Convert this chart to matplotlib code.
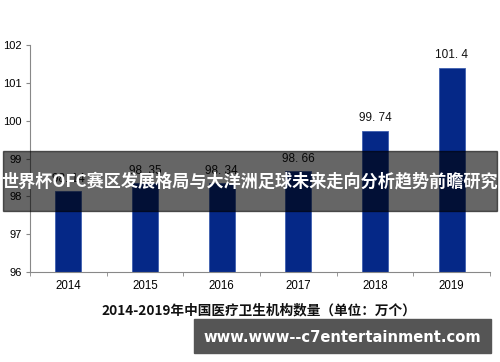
from matplotlib import pyplot as plt
import matplotlib.patches as mpatches
import numpy as np

plt.rcParams['font.family'] = ['Liberation Sans', 'Noto Sans CJK SC', 'DejaVu Sans']

# data
years = ['2014', '2015', '2016', '2017', '2018', '2019']
counts = [98.14, 98.35, 98.34, 98.66, 99.74, 101.4]
count_labels = ['98. 14', '98. 35', '98. 34', '98. 66', '99. 74', '101. 4']
y_ticks = [96, 97, 98, 99, 100, 101, 102]

fig = plt.figure(figsize=(5, 3.62), dpi=100)
ax = fig.add_axes([0.06, 0.2486, 0.92, 0.627])

x = np.arange(len(years))
ax.bar(x, counts, width=0.34, color='#052887', edgecolor='#3f5fb0', linewidth=0.6, zorder=2)

for xi, v, lab in zip(x, counts, count_labels):
    ax.annotate(lab, (xi, v), xytext=(0, 4.5), textcoords='offset points',
                ha='center', va='bottom', fontsize=8.5, color='#111111')

ax.set_xlim(-0.5, len(years) - 0.5)
ax.set_ylim(96, 102)
ax.set_yticks(y_ticks)
ax.set_yticklabels([str(t) for t in y_ticks], fontsize=8)
ax.set_xticks(x)
ax.set_xticklabels(years, fontsize=8.3)
ax.set_xticks(np.arange(-0.5, len(years)), minor=True)
ax.tick_params(axis='x', which='major', length=0, pad=6)
ax.tick_params(axis='x', which='minor', length=3, color='#888888')
ax.tick_params(axis='y', length=3, color='#888888', pad=3)

for s in ['top', 'right']:
    ax.spines[s].set_visible(False)
ax.spines['left'].set_color('#888888')
ax.spines['bottom'].set_color('#888888')

fig.text(0.518, 1 - 310 / 362, '2014-2019年中国医疗卫生机构数量（单位：万个）',
         ha='center', va='center', fontsize=9.8, fontweight='bold',
         family=['Noto Sans CJK SC', 'DejaVu Sans'], color='#111111')

# overlay banners
fig.patches.append(mpatches.Rectangle((0.006, 1 - 211 / 362), 0.988, 60 / 362,
                                      transform=fig.transFigure, color='#000000',
                                      alpha=0.6, zorder=5))
fig.text(0.5, 1 - 181 / 362, '世界杯OFC赛区发展格局与大洋洲足球未来走向分析趋势前瞻研究',
         ha='center', va='center', fontsize=12.3, fontweight='bold', color='white',
         family=['Noto Sans CJK SC', 'DejaVu Sans'], zorder=6)

fig.patches.append(mpatches.Rectangle((194 / 500, 1 - 353 / 362), 297 / 500, 34 / 362,
                                      transform=fig.transFigure, color='#555555',
                                      zorder=5))
fig.text(342 / 500, 1 - 337 / 362, 'www.www--c7entertainment.com',
         ha='center', va='center', fontsize=10.6, fontweight='bold', color='white',
         family='DejaVu Sans', zorder=6)

fig.savefig('out.png', dpi=100)
